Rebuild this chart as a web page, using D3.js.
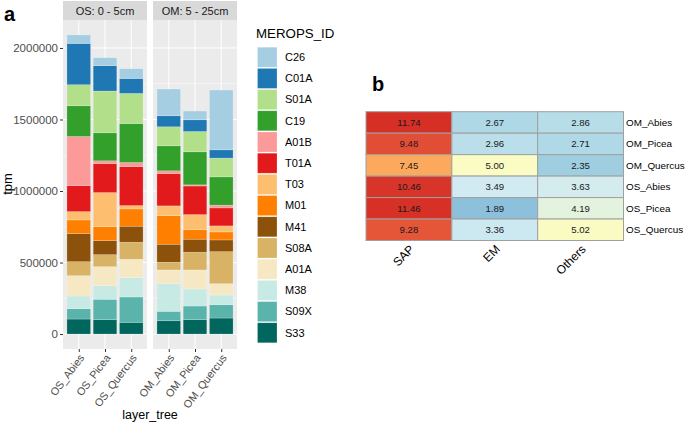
<!DOCTYPE html>
<html><head><meta charset="utf-8">
<script src="https://cdn.jsdelivr.net/npm/d3@7"></script>
<style>body{margin:0;background:#fff;} text{font-family:"Liberation Sans",Arial,sans-serif;}</style>
</head><body>
<svg id="c" width="685" height="430"></svg>
<script>
// ---- data ----
const samples = ["OS_Abies","OS_Picea","OS_Quercus","OM_Abies","OM_Picea","OM_Quercus"];
const facets = ["OS: 0 - 5cm","OM: 5 - 25cm"];
const meropsIds = ["C26","C01A","S01A","C19","A01B","T01A","T03","M01","M41","S08A","A01A","M38","S09X","S33"];
const idColors = ["#A6CEE3","#1F78B4","#B2DF8A","#33A02C","#FB9A99","#E31A1C","#FDBF6F","#FF7F00","#8C510A","#D8B365","#F6E8C3","#C7EAE5","#5AB4AC","#01665E"];
const C26  = [59000, 56000, 68000, 187000, 61000, 418000];
const C01A = [289000, 177000, 105000, 77000, 82000, 58000];
const S01A = [147000, 292000, 210000, 133000, 142000, 131000];
const C19  = [215000, 196000, 273000, 175000, 231000, 198000];
const A01B = [343000, 19000, 28000, 19000, 8000, 19000];
const T01A = [182000, 203000, 273000, 226000, 200000, 126000];
const T03  = [58000, 238000, 23000, 68000, 105000, 42000];
const M01  = [96000, 98000, 121000, 200000, 67000, 56000];
const M41  = [196000, 98000, 112000, 126000, 91000, 82000];
const S08A = [98000, 84000, 119000, 54000, 124000, 224000];
const A01A = [142000, 133000, 129000, 96000, 133000, 79000];
const M38  = [89000, 95000, 135000, 193000, 119000, 68000];
const S09X = [72000, 143000, 177000, 66000, 96000, 93000];
const S33  = [105000, 100000, 82000, 93000, 100000, 112000];
const yTicks = [0, 500000, 1000000, 1500000, 2000000];

const heatRows = ["OM_Abies","OM_Picea","OM_Quercus","OS_Abies","OS_Picea","OS_Quercus"];
const heatCols = ["SAP","EM","Others"];
const SAP    = [11.74, 9.48, 7.45, 10.46, 11.46, 9.28];
const EM     = [2.67, 2.96, 5.00, 3.49, 1.89, 3.36];
const Others = [2.86, 2.71, 2.35, 3.63, 4.19, 5.02];

// ---- panel a ----
const svg = d3.select("#c");
const series = {C26,C01A,S01A,C19,A01B,T01A,T03,M01,M41,S08A,A01A,M38,S09X,S33};
const rows = samples.map((s,i)=>{const o={sample:s}; meropsIds.forEach(id=>o[id]=series[id][i]); return o;});
const stackKeys = meropsIds.slice().reverse();
const stack = d3.stack().keys(stackKeys)(rows);
const maxTot = d3.max(rows, r=>d3.sum(meropsIds, k=>r[k]));
const pTop=20, pBottom=349;
const y = d3.scaleLinear().domain([-0.05*maxTot, 1.05*maxTot]).range([pBottom, pTop]);
const color = d3.scaleOrdinal().domain(meropsIds).range(idColors);

const panelX = [[63,147],[153,237]];
const facetSamples = [samples.slice(0,3), samples.slice(3)];

facets.forEach((f,fi)=>{
  const [x0,x1]=panelX[fi];
  const xc = d3.scalePoint().domain(facetSamples[fi]).range([x0+(x1-x0)*0.6/3.2, x1-(x1-x0)*0.6/3.2]);
  const bw = (x1-x0)/3.2*0.9;
  const g = svg.append("g");
  g.append("rect").attr("x",x0).attr("y",pTop).attr("width",x1-x0).attr("height",pBottom-pTop).attr("fill","#EBEBEB");
  const minors = yTicks.map(t=>t+250000).filter(v=>y(v)>pTop);
  g.selectAll(".mn").data(minors).join("line").attr("x1",x0).attr("x2",x1).attr("y1",d=>y(d)).attr("y2",d=>y(d)).attr("stroke","#fff").attr("stroke-width",0.5);
  g.selectAll(".mj").data(yTicks).join("line").attr("x1",x0).attr("x2",x1).attr("y1",d=>y(d)).attr("y2",d=>y(d)).attr("stroke","#fff").attr("stroke-width",1);
  g.selectAll(".vx").data(facetSamples[fi]).join("line").attr("x1",d=>xc(d)).attr("x2",d=>xc(d)).attr("y1",pTop).attr("y2",pBottom).attr("stroke","#fff").attr("stroke-width",1);
  stack.forEach(layer=>{
    g.selectAll(null).data(layer.filter(d=>facetSamples[fi].includes(d.data.sample))).join("rect")
      .attr("x",d=>xc(d.data.sample)-bw/2).attr("width",bw)
      .attr("y",d=>y(d[1])).attr("height",d=>y(d[0])-y(d[1]))
      .attr("fill",color(layer.key)).attr("stroke","#fff").attr("stroke-opacity",0.35).attr("stroke-width",0.6);
  });
  g.append("rect").attr("x",x0).attr("y",1).attr("width",x1-x0).attr("height",pTop-1).attr("fill","#D9D9D9");
  g.append("text").attr("x",(x0+x1)/2).attr("y",14.5).attr("text-anchor","middle").attr("font-size",11).attr("fill","#1A1A1A").text(f);
  const xa = d3.axisBottom(xc).tickSize(3).tickPadding(2);
  const ax = g.append("g").attr("transform",`translate(0,${pBottom})`).call(xa);
  ax.select(".domain").remove();
  ax.selectAll("line").attr("stroke","#333");
  ax.selectAll("text").attr("font-size",10.8).attr("fill","#4D4D4D").attr("text-anchor","end")
    .attr("dy",0).attr("y",0).attr("transform","translate(5.5,9) rotate(-53)");
});
const ya = d3.axisLeft(y).tickValues(yTicks).tickFormat(d3.format("d")).tickSize(3).tickPadding(2);
const yg = svg.append("g").attr("transform","translate(63,0)").call(ya);
yg.select(".domain").remove();
yg.selectAll("line").attr("stroke","#333");
yg.selectAll("text").attr("font-size",11.5).attr("fill","#4D4D4D");

svg.append("text").attr("transform","translate(12,184) rotate(-90)").attr("text-anchor","middle").attr("font-size",13).attr("fill","#000").text("tpm");
svg.append("text").attr("x",150).attr("y",419).attr("text-anchor","middle").attr("font-size",12.5).attr("fill","#000").text("layer_tree");
svg.append("text").attr("x",4).attr("y",21).attr("font-size",20).attr("font-weight","bold").text("a");

const lg = svg.append("g");
lg.append("text").attr("x",256).attr("y",38).attr("font-size",13.3).text("MEROPS_ID");
meropsIds.forEach((id,i)=>{
  const yy = 46.7 + i*21.2;
  lg.append("rect").attr("x",257.5).attr("y",yy+0.5).attr("width",19.5).attr("height",20).attr("fill",color(id)).attr("stroke","#fff").attr("stroke-opacity",0.35).attr("stroke-width",0.6);
  lg.append("text").attr("x",285).attr("y",yy+10.5).attr("dy","0.35em").attr("font-size",11).text(id);
});

// ---- panel b ----
svg.append("text").attr("x",372).attr("y",91).attr("font-size",20).attr("font-weight","bold").text("b");
const hx = d3.scaleBand().domain(heatCols).range([366,623.5]);
const hy = d3.scaleBand().domain(heatRows).range([111.7,240.5]);
const hcolor = d3.scaleLinear()
  .domain([1.89, 2.7, 3.5, 5.0, 7.45, 9.4, 10.4, 11.74])
  .range(["#8DC0DA","#AFD9E6","#D2EBF2","#FAFCC4","#FCA95E","#E34F36","#D8352A","#D62F26"]);
const hcolsData = {SAP, EM, Others};
const cells = [];
heatCols.forEach(c=>heatRows.forEach((r,i)=>cells.push({c,r,v:hcolsData[c][i]})));
const hg = svg.append("g");
hg.selectAll("rect").data(cells).join("rect")
  .attr("x",d=>hx(d.c)).attr("y",d=>hy(d.r)).attr("width",hx.bandwidth()).attr("height",hy.bandwidth())
  .attr("fill",d=>hcolor(d.v)).attr("stroke","#A0A0A0").attr("stroke-width",1);
hg.selectAll("text.v").data(cells).join("text").attr("class","v")
  .attr("x",d=>hx(d.c)+hx.bandwidth()/2).attr("y",d=>hy(d.r)+hy.bandwidth()/2).attr("dy","0.35em")
  .attr("text-anchor","middle").attr("font-size",9.6).attr("fill","#1A1A1A").text(d=>d.v.toFixed(2));
hg.selectAll("text.r").data(heatRows).join("text").attr("class","r")
  .attr("x",626).attr("y",d=>hy(d)+hy.bandwidth()/2).attr("dy","0.35em").attr("font-size",9.9).text(d=>d);
hg.selectAll("text.c").data(heatCols).join("text").attr("class","c")
  .attr("text-anchor","end").attr("font-size",12)
  .attr("transform",d=>`translate(${hx(d)+hx.bandwidth()/2+6},${250}) rotate(-45)`).text(d=>d);
</script>
</body></html>
